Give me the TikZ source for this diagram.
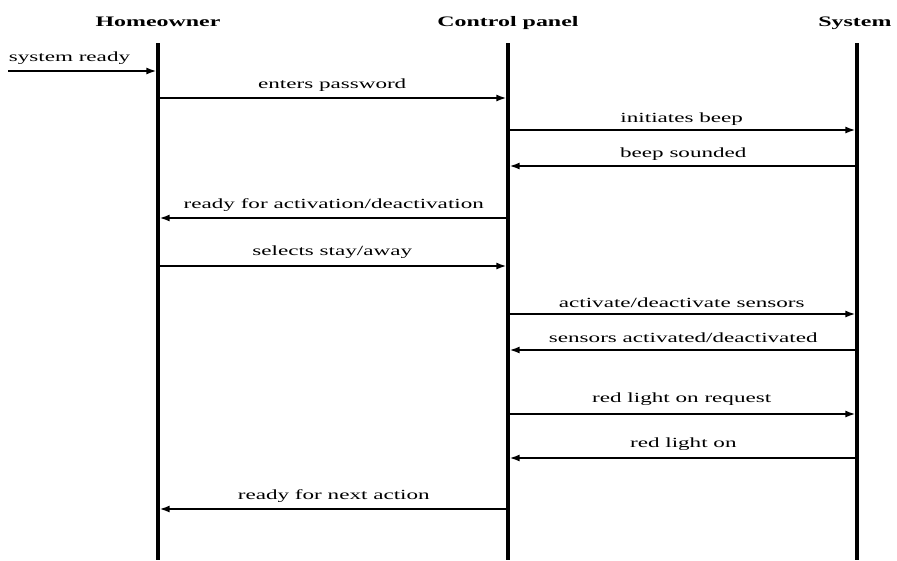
\documentclass[tikz,border=0pt]{standalone}
\usepackage{fontspec}
\setmainfont{Liberation Serif}[FakeStretch=1.65]
\usetikzlibrary{arrows.meta}
\begin{document}
\begin{tikzpicture}[x=1pt,y=-1pt,
  lifeline/.style={line width=3.2pt},
  msg/.style={line width=1.7pt,-{Latex[length=10pt,width=7pt]}},
  head/.style={font=\fontsize{14.5}{16}\selectfont\bfseries,anchor=base},
  lbl/.style={font=\fontsize{14}{16}\selectfont,anchor=base,inner sep=0pt}]
  \useasboundingbox (0,0) rectangle (897,560);

  % participants
  \node[head] (hoT) at (158,26) {Homeowner};
  \node[head] (cpT) at (508,26) {Control panel};
  \node[head,anchor=base east] (syT) at (895,26) {System};

  \coordinate (Hx) at (158,43);
  \coordinate (Cx) at (508,43);
  \coordinate (Sx) at (857,43);
  \coordinate (start) at (8,71);

  \draw[lifeline] (Hx) -- (Hx |- 0,560);
  \draw[lifeline] (Cx) -- (Cx |- 0,560);
  \draw[lifeline] (Sx) -- (Sx |- 0,560);

  % messages
  \draw[msg] (start) -- ([xshift=-1.6pt]Hx |- start)
    node[lbl,anchor=base west] at ([yshift=10pt]start) {system ready};
  \draw[msg] (Hx |- 0,98) -- ([xshift=-1.6pt]Cx |- 0,98)
    node[lbl,midway,yshift=10pt] {enters password};
  \draw[msg] (Cx |- 0,130) -- ([xshift=-1.6pt]Sx |- 0,130)
    node[lbl,midway,yshift=8pt] {initiates beep};
  \draw[msg] (Sx |- 0,166) -- ([xshift=1.6pt]Cx |- 0,166)
    node[lbl,midway,yshift=9pt] {beep sounded};
  \draw[msg] (Cx |- 0,218) -- ([xshift=1.6pt]Hx |- 0,218)
    node[lbl,midway,yshift=10pt] {ready for activation/deactivation};
  \draw[msg] (Hx |- 0,266) -- ([xshift=-1.6pt]Cx |- 0,266)
    node[lbl,midway,yshift=11pt] {selects stay/away};
  \draw[msg] (Cx |- 0,314) -- ([xshift=-1.6pt]Sx |- 0,314)
    node[lbl,midway,yshift=7pt] {activate/deactivate sensors};
  \draw[msg] (Sx |- 0,350) -- ([xshift=1.6pt]Cx |- 0,350)
    node[lbl,midway,yshift=8pt] {sensors activated/deactivated};
  \draw[msg] (Cx |- 0,414) -- ([xshift=-1.6pt]Sx |- 0,414)
    node[lbl,midway,yshift=12pt] {red light on request};
  \draw[msg] (Sx |- 0,458) -- ([xshift=1.6pt]Cx |- 0,458)
    node[lbl,midway,yshift=11pt] {red light on};
  \draw[msg] (Cx |- 0,509) -- ([xshift=1.6pt]Hx |- 0,509)
    node[lbl,midway,yshift=10pt] {ready for next action};
\end{tikzpicture}
\end{document}
